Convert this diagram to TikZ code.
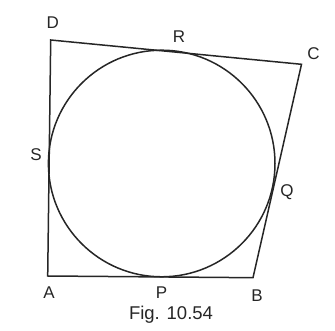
\documentclass[tikz,border=0pt]{standalone}
\usepackage{fontspec}
\setmainfont{Liberation Sans}
\begin{document}
\begin{tikzpicture}[x=1pt,y=-1pt,
  edge/.style={line width=1.5pt,line join=miter,black!85},
  lbl/.style={font=\fontsize{17}{17}\selectfont,text=black!85,inner sep=0pt},
  captext/.style={font=\fontsize{18.5}{18.5}\selectfont,text=black!85,inner sep=0pt}]
\useasboundingbox (0,0) rectangle (335,331);
% vertices
\coordinate (A) at (47.7,276);
\coordinate (B) at (253,277.7);
\coordinate (C) at (301.5,64.3);
\coordinate (D) at (50.7,40);
\coordinate (O) at (161.7,163.5);
% quadrilateral and incircle
\draw[edge] (A) -- (B) -- (C) -- (D) -- cycle;
\draw[edge] (O) circle (113.3);
% labels
\node[lbl] (la) at (49,293) {A};
\node[lbl] (lb) at (257,295.5) {B};
\node[lbl] (lc) at (313.5,54) {C};
\node[lbl] (ld) at (52.7,22.5) {D};
\node[lbl] (lp) at (161.5,293) {P};
\node[lbl] (lq) at (287,192) {Q};
\node[lbl] (lr) at (179,37) {R};
\node[lbl] (ls) at (36,155) {S};
\node[captext] (fig) at (171,315) {Fig. 10.54};
\end{tikzpicture}
\end{document}
